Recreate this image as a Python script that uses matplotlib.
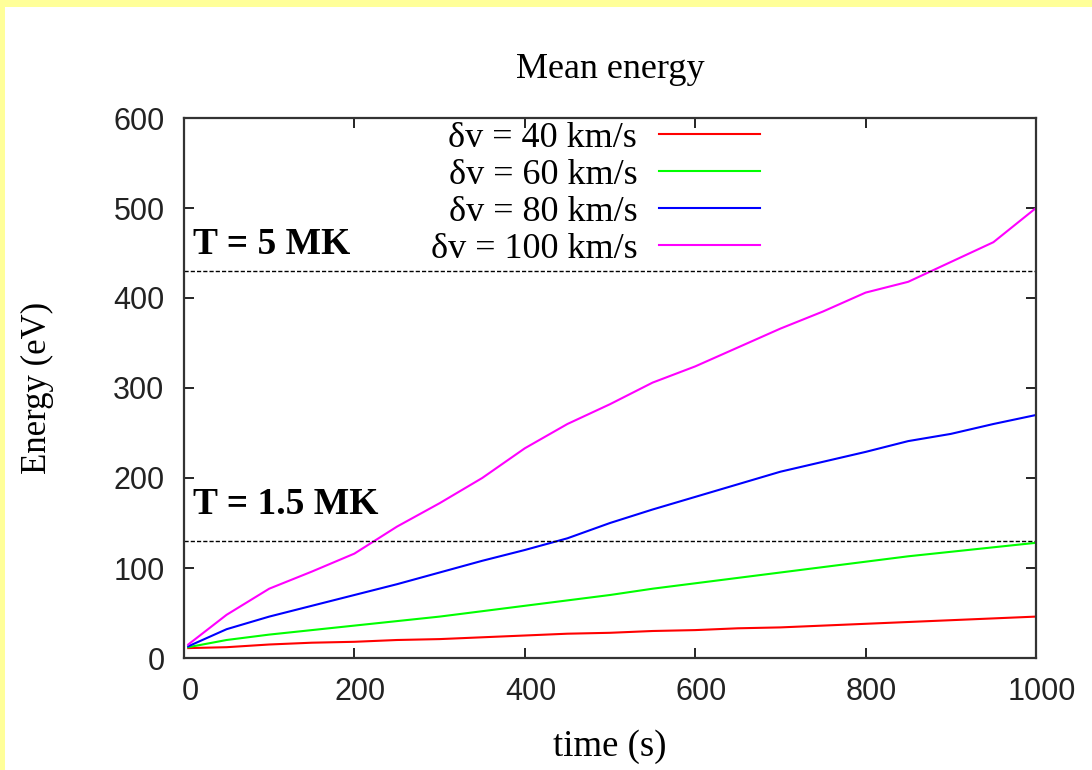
import matplotlib
matplotlib.use("Agg")
import matplotlib.pyplot as plt
import matplotlib.transforms as mtransforms
from matplotlib.patches import Rectangle

# time axis (s)
t = [5, 50, 100, 150, 200, 250, 300, 350, 400, 450, 500,
     550, 600, 650, 700, 750, 800, 850, 900, 950, 1000]

# mean energy (eV) for each velocity amplitude
e40 = [11, 12, 15, 17, 18, 20, 21, 23, 25, 27, 28,
       30, 31, 33, 34, 36, 38, 40, 42, 44, 46]
e60 = [12, 20, 26, 31, 36, 41, 46, 52, 58, 64, 70,
       77, 83, 89, 95, 101, 107, 113, 118, 123, 128]
e80 = [13, 32, 46, 58, 70, 82, 95, 108, 120, 133, 150,
       165, 179, 193, 207, 218, 229, 241, 249, 260, 270]
e100 = [15, 48, 77, 96, 116, 146, 172, 200, 233, 260, 282,
        306, 324, 345, 366, 385, 406, 418, 440, 462, 500]

labels = ['δv = 40 km/s', 'δv = 60 km/s', 'δv = 80 km/s', 'δv = 100 km/s']
colors = ['#ff0000', '#00ff00', '#0000ff', '#ff00ff']

# temperature reference levels (eV)
levels = [430, 130]
level_labels = ['T = 5 MK', 'T = 1.5 MK']
level_text_y = [459, 170]

serif = 'Liberation Serif'
sans = 'Liberation Sans'

fig = plt.figure(figsize=(10.92, 7.70), dpi=100)
fig.patch.set_facecolor('white')
# yellow page border on top and left
fig.patches.append(Rectangle((0, 1 - 7 / 770), 1, 7 / 770, transform=fig.transFigure,
                             facecolor='#ffff99', edgecolor='none', zorder=0))
fig.patches.append(Rectangle((0, 0), 5 / 1092, 1, transform=fig.transFigure,
                             facecolor='#ffff99', edgecolor='none', zorder=0))

ax = fig.add_axes([184 / 1092, 1 - 658 / 770, (1036 - 184) / 1092, (658 - 118) / 770])

for ys, lab, c in zip([e40, e60, e80, e100], labels, colors):
    ax.plot(t, ys, color=c, lw=1.5, label=lab)

for lv, lab, ty in zip(levels, level_labels, level_text_y):
    ax.axhline(lv, color='black', lw=1.0, ls=(0, (3, 1.5)))
    ax.text(10, ty, lab, fontsize=27, family=serif, fontweight='bold', va='center', ha='left')

ax.set_xlim(0, 1000)
ax.set_ylim(0, 600)
ax.set_xticks([0, 200, 400, 600, 800, 1000])
ax.set_yticks([0, 100, 200, 300, 400, 500, 600])
ax.tick_params(direction='in', length=7, width=1.2, top=True, right=True,
               labelsize=22, pad=14, colors='black')
for lab in ax.get_xticklabels() + ax.get_yticklabels():
    lab.set_family(sans)
    lab.set_color('#222222')
# gnuplot puts the x tick labels a little to the right
shift = mtransforms.ScaledTranslation(6 / 100, 0, fig.dpi_scale_trans)
for lab in ax.get_xticklabels():
    lab.set_transform(lab.get_transform() + shift)
for s in ax.spines.values():
    s.set_linewidth(1.6)
    s.set_color('#333333')

ax.set_title('Mean energy', fontsize=26, family=serif, pad=29)
ax.set_xlabel('time (s)', fontsize=26.5, family=serif, labelpad=16)
ax.set_ylabel('Energy (eV)', fontsize=25, family=serif, labelpad=43)

leg = ax.legend(loc='upper right', bbox_to_anchor=(0.676, 0.993), frameon=False,
                markerfirst=False, handlelength=2.8, handletextpad=0.6,
                labelspacing=0.1, borderpad=0, borderaxespad=0,
                prop={'family': serif, 'size': 26})
for txt in leg.get_texts():
    txt.set_ha('right')

fig.savefig('out.png', dpi=100, facecolor=fig.get_facecolor())
